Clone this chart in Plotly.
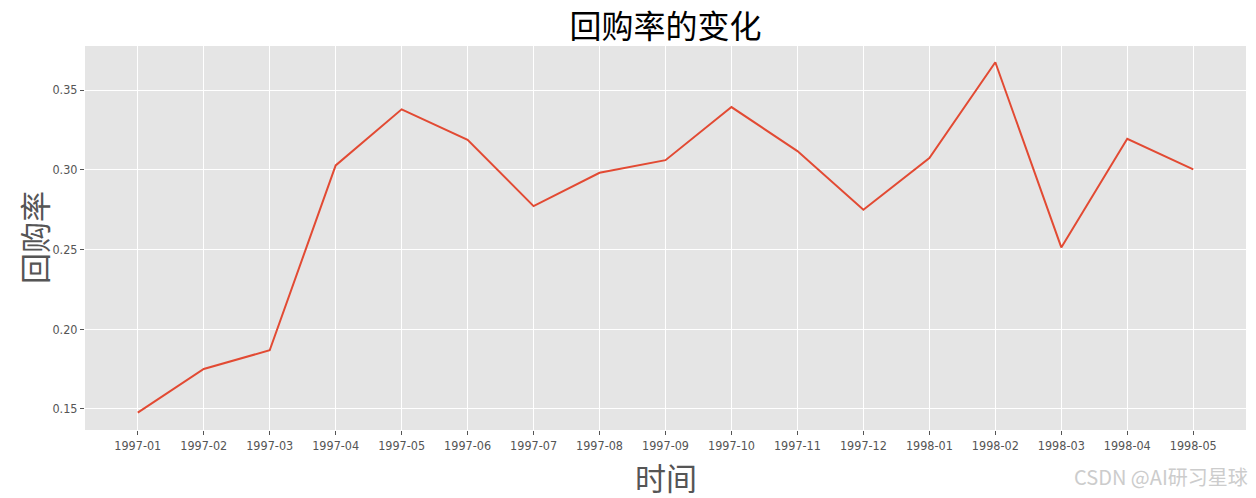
import plotly.graph_objects as go

months = ["1997-01", "1997-02", "1997-03", "1997-04", "1997-05", "1997-06",
          "1997-07", "1997-08", "1997-09", "1997-10", "1997-11", "1997-12",
          "1998-01", "1998-02", "1998-03", "1998-04", "1998-05"]
repurchase_rate = [0.1477, 0.1751, 0.1868, 0.3027, 0.3379, 0.3188,
                   0.2772, 0.2981, 0.3060, 0.3393, 0.3117, 0.2749,
                   0.3073, 0.3674, 0.2513, 0.3194, 0.3002]
y_ticks = [0.15, 0.20, 0.25, 0.30, 0.35]
y_tick_labels = ["0.15", "0.20", "0.25", "0.30", "0.35"]

idx = list(range(len(months)))

fig = go.Figure()
fig.add_trace(go.Scatter(
    x=idx, y=repurchase_rate, mode="lines",
    line=dict(color="#E24A33", width=2), showlegend=False,
))

tick_font = dict(family="Liberation Sans Narrow, DejaVu Sans Condensed, DejaVu Sans Mono",
                 size=12.5, color="#555555")
cjk = "Noto Sans CJK SC"

fig.update_layout(
    width=1256, height=498,
    paper_bgcolor="white", plot_bgcolor="#E5E5E5",
    margin=dict(l=85, r=10, t=46, b=68),
    title=dict(text="回购率的变化", x=0.5, xanchor="center", xref="paper",
               y=1 - 27 / 498, yanchor="middle", yref="container",
               font=dict(family=cjk, size=32, color="black")),
    xaxis=dict(range=[-0.8, 16.8], tickmode="array", tickvals=idx, ticktext=months,
               showgrid=True, gridcolor="white", gridwidth=1, zeroline=False,
               ticks="outside", ticklen=4, tickcolor="#555555", tickfont=tick_font,
               showline=False),
    yaxis=dict(range=[0.1368, 0.3776], tickmode="array", tickvals=y_ticks,
               ticktext=y_tick_labels,
               showgrid=True, gridcolor="white", gridwidth=1, zeroline=False,
               ticks="outside", ticklen=4, tickcolor="#555555", tickfont=tick_font,
               showline=False),
    annotations=[
        dict(text="时间", xref="paper", yref="paper", x=0.5, y=0,
             xanchor="center", yanchor="middle", yshift=-46, showarrow=False,
             font=dict(family=cjk, size=31, color="#555555")),
        dict(text="回购率", xref="paper", yref="paper", x=0, y=0.5,
             xanchor="center", yanchor="middle", xshift=-52, textangle=-90,
             showarrow=False, font=dict(family=cjk, size=31, color="#555555")),
        dict(text="CSDN @AI研习星球", xref="paper", yref="paper", x=1, y=0,
             xanchor="right", yanchor="middle", xshift=4, yshift=-46,
             showarrow=False, font=dict(family=cjk, size=20, color="#cccccc")),
    ],
)

fig.write_html("out.html", config={"displayModeBar": False},
               post_script="document.body.style.margin='0';")
